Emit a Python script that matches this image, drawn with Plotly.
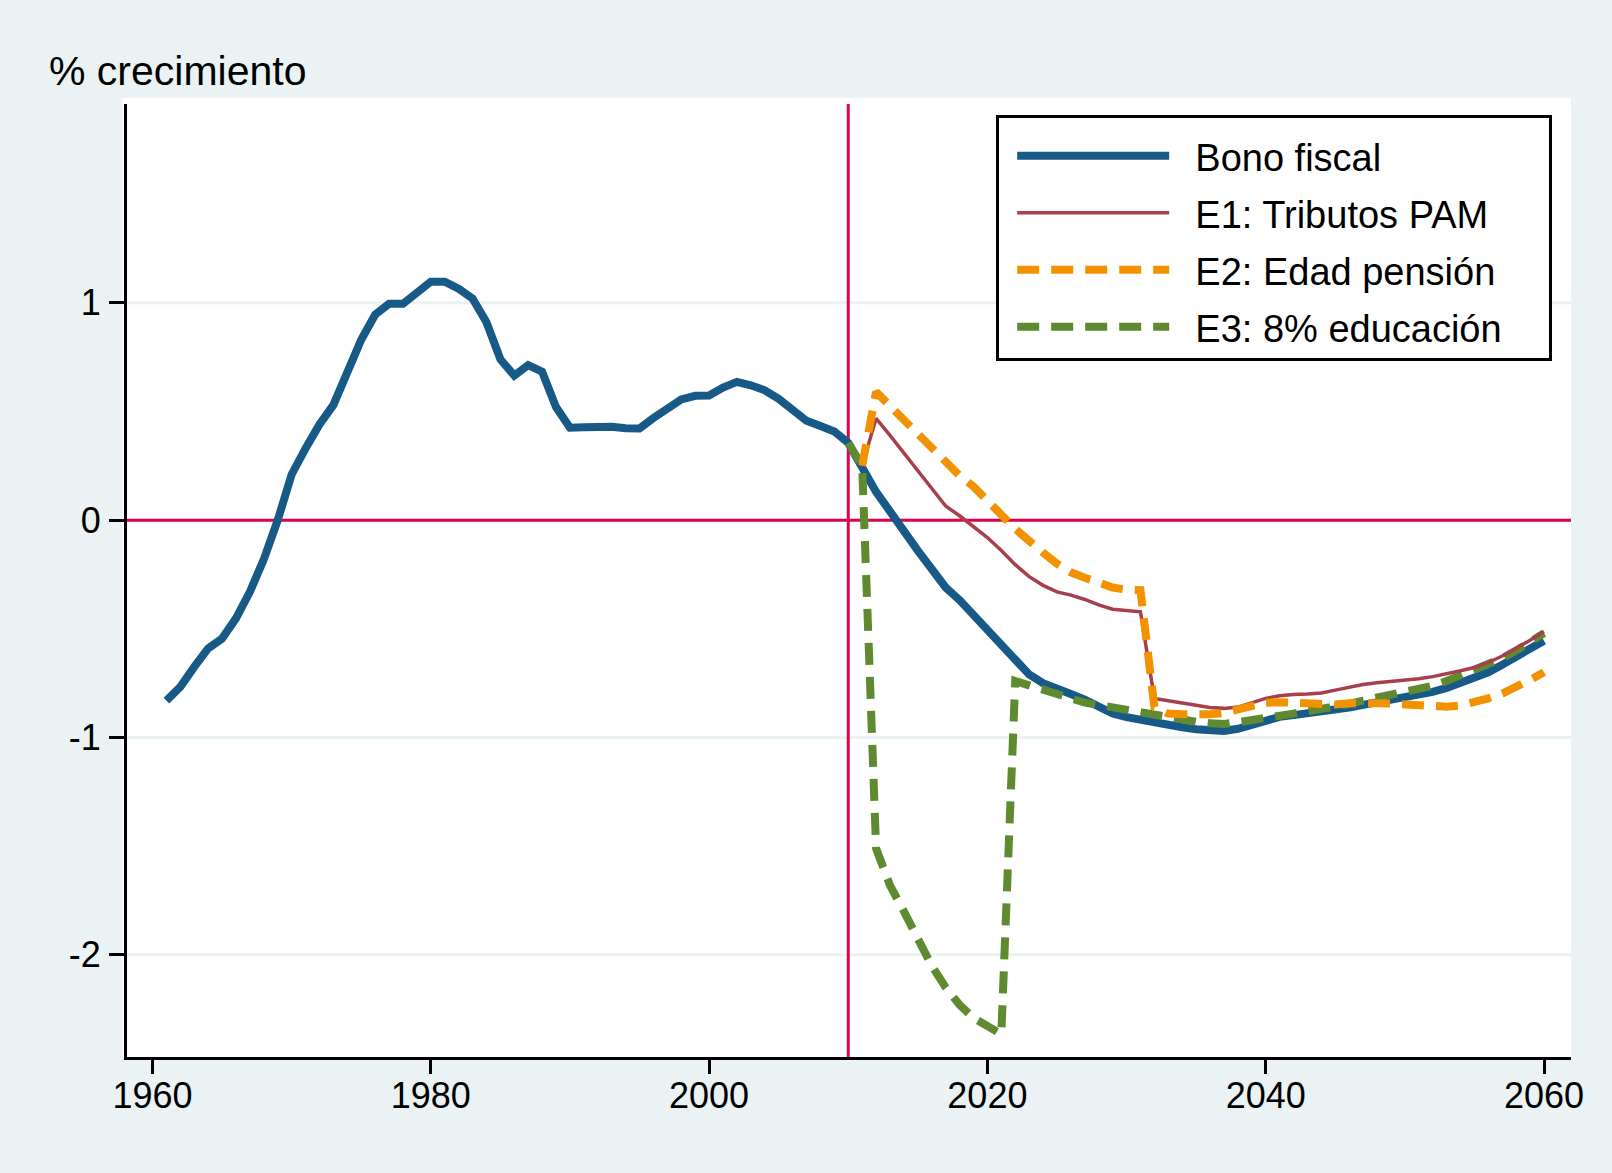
import plotly.graph_objects as go

# ---------------- data ----------------
years_base = list(range(1961, 2061))
bono_fiscal = [
    -0.83, -0.767, -0.675, -0.59, -0.545, -0.452, -0.33, -0.18, 0.0, 0.21,       # 1961-1970
    0.33, 0.44, 0.53, 0.675, 0.83, 0.945, 0.995, 0.995, 1.05, 1.097,             # 1971-1980
    1.097, 1.065, 1.02, 0.91, 0.74, 0.665, 0.713, 0.683, 0.52, 0.425,            # 1981-1990
    0.427, 0.433, 0.43, 0.423, 0.422, 0.47, 0.518, 0.555, 0.572, 0.573,          # 1991-2000
    0.61, 0.636, 0.62, 0.597, 0.558, 0.505, 0.457, 0.433, 0.408, 0.355,          # 2001-2010
    0.245, 0.13, 0.04, -0.055, -0.14, -0.225, -0.31, -0.368, -0.437, -0.503,     # 2011-2020
    -0.58, -0.65, -0.71, -0.75, -0.78, -0.80, -0.826, -0.857, -0.89, -0.906,     # 2021-2030
    -0.92, -0.93, -0.943, -0.953, -0.962, -0.968, -0.97, -0.96, -0.94, -0.918,   # 2031-2040
    -0.905, -0.897, -0.89, -0.884, -0.872, -0.862, -0.85, -0.838, -0.826, -0.815,  # 2041-2050
    -0.806, -0.79, -0.772, -0.75, -0.728, -0.70, -0.665, -0.63, -0.593, -0.555,  # 2051-2060
]

years_e1 = list(range(2011, 2061))
e1_tributos_pam = [
    0.25, 0.468, 0.39, 0.31, 0.23, 0.15, 0.065, 0.02, -0.03, -0.08,              # 2011-2020
    -0.14, -0.205, -0.26, -0.30, -0.33, -0.345, -0.365, -0.39, -0.41, -0.418,    # 2021-2030
    -0.422, -0.82, -0.832, -0.843, -0.852, -0.862, -0.866, -0.86, -0.84, -0.82,  # 2031-2040
    -0.808, -0.802, -0.80, -0.795, -0.782, -0.768, -0.756, -0.748, -0.742, -0.737,  # 2041-2050
    -0.73, -0.72, -0.708, -0.693, -0.678, -0.655, -0.625, -0.59, -0.553, -0.512,  # 2051-2060
]

years_e2 = list(range(2011, 2061))
e2_edad_pension = [
    0.25, 0.59, 0.525, 0.46, 0.395, 0.33, 0.265, 0.205, 0.155, 0.095,            # 2011-2020
    0.025, -0.04, -0.10, -0.15, -0.20, -0.24, -0.265, -0.29, -0.31, -0.32,       # 2021-2030
    -0.322, -0.86, -0.89, -0.893, -0.895, -0.893, -0.887, -0.87, -0.85, -0.84,   # 2031-2040
    -0.838, -0.84, -0.845, -0.85, -0.848, -0.843, -0.84, -0.842, -0.844, -0.848,  # 2041-2050
    -0.853, -0.858, -0.858, -0.853, -0.84, -0.82, -0.798, -0.77, -0.735, -0.70,  # 2051-2060
]

years_e3 = list(range(2010, 2061))
e3_educacion = [
    0.355, 0.25, -1.51, -1.68, -1.80, -1.93, -2.05, -2.15, -2.23, -2.29, -2.33,  # 2010-2020
    -2.365, -0.74, -0.76, -0.78, -0.80, -0.82, -0.84, -0.85, -0.862, -0.872,     # 2021-2030
    -0.882, -0.892, -0.905, -0.918, -0.928, -0.935, -0.938, -0.93, -0.918, -0.91,  # 2031-2040
    -0.90, -0.89, -0.88, -0.87, -0.86, -0.845, -0.83, -0.818, -0.806, -0.795,    # 2041-2050
    -0.78, -0.762, -0.74, -0.715, -0.69, -0.66, -0.635, -0.60, -0.565, -0.52,    # 2051-2060
]

series_names = ["Bono fiscal", "E1: Tributos PAM", "E2: Edad pensión", "E3: 8% educación"]
x_tickvals = [1960, 1980, 2000, 2020, 2040, 2060]
y_tickvals = [-2, -1, 0, 1]
y_ticktext = ["-2", "-1", "0", "1"]
y_gridvals = [-2, -1, 1]
ref_year = 2010
ref_value = 0
y_title = "% crecimiento"

# ---------------- style ----------------
BG = "#EAF2F3"
BLUE = "#185A87"
MAROON = "#A8404C"
ORANGE = "#F39200"
GREEN = "#5F8A30"
CRIMSON = "#E1004E"
FONT = "Liberation Sans, Arial, Helvetica, sans-serif"
NB = "\u00a0"

W, H = 1612, 1173
L, R, T, B = 126.5, 41, 104, 116.3
PW = W - L - R
PH = H - T - B


def legend_label(s):
    return NB * 2 + s + NB * 4


fig = go.Figure()
fig.add_trace(go.Scatter(x=years_base, y=bono_fiscal, mode="lines", name=legend_label(series_names[0]),
                         line=dict(color=BLUE, width=8), legendrank=1, legendgroup="g1"))
fig.add_trace(go.Scatter(x=years_e3, y=e3_educacion, mode="lines", name=legend_label(series_names[3]),
                         line=dict(color=GREEN, width=8, dash="22px,12px"),
                         legendrank=4, legendgroup="g4"))
fig.add_trace(go.Scatter(x=years_e1, y=e1_tributos_pam, mode="lines", name=legend_label(series_names[1]),
                         line=dict(color=MAROON, width=3.5), legendrank=2, legendgroup="g2"))
fig.add_trace(go.Scatter(x=years_e2, y=e2_edad_pension, mode="lines", name=legend_label(series_names[2]),
                         line=dict(color=ORANGE, width=8, dash="22px,12px"),
                         legendrank=3, legendgroup="g3"))

shapes = [
    # white plot region extending slightly beyond the axes (Stata-like margin)
    dict(type="rect", xref="paper", yref="paper", x0=-4.5 / PW, x1=1, y0=0, y1=1 + 6 / PH,
         fillcolor="white", line=dict(width=0), layer="below"),
]
for gv in y_gridvals:
    shapes.append(dict(type="line", xref="paper", yref="y", x0=0, x1=1, y0=gv, y1=gv,
                       line=dict(color=BG, width=3), layer="below"))
shapes += [
    dict(type="line", xref="x", yref="paper", x0=ref_year, x1=ref_year, y0=0, y1=1,
         line=dict(color=CRIMSON, width=3), layer="below"),
    dict(type="line", xref="paper", yref="y", x0=0, x1=1, y0=ref_value, y1=ref_value,
         line=dict(color=CRIMSON, width=3), layer="below"),
]

fig.update_layout(
    width=W, height=H,
    margin=dict(l=L, r=R, t=T, b=B, pad=0),
    paper_bgcolor=BG, plot_bgcolor="white",
    font=dict(family=FONT, color="black", size=36),
    shapes=shapes,
    showlegend=True,
    legend=dict(
        x=(996 - L) / PW, y=1 - (115 - T) / PH, xanchor="left", yanchor="top",
        bgcolor="white", bordercolor="black", borderwidth=3,
        font=dict(family=FONT, size=38, color="black"),
        itemwidth=152, indentation=13, traceorder="grouped", tracegroupgap=4.6,
        title=dict(text=NB, font=dict(size=5)),
    ),
    annotations=[
        dict(text=y_title, xref="paper", yref="paper", x=(46.5 - L) / PW, y=1 + (T - 71) / PH,
             xanchor="left", yanchor="middle", showarrow=False,
             font=dict(family=FONT, size=41, color="black")),
    ],
)

fig.update_xaxes(
    range=[1958.168, 2061.94], tickvals=x_tickvals, ticks="outside", ticklen=14, tickwidth=3,
    tickcolor="black", showline=True, linecolor="black", linewidth=3, showgrid=False,
    zeroline=False, ticklabelstandoff=-9, tickfont=dict(family=FONT, size=36, color="black"),
)
fig.update_yaxes(
    range=[-2.4699, 1.9144], tickvals=y_tickvals, ticktext=y_ticktext, ticks="outside",
    ticklen=15, tickwidth=3, tickcolor="black", showline=True, linecolor="black", linewidth=3,
    showgrid=False, zeroline=False, ticklabelstandoff=1,
    tickfont=dict(family=FONT, size=36, color="black"),
)

fig.write_html("out.html", config={"displayModeBar": False},
               post_script="document.body.style.margin='0px';")
